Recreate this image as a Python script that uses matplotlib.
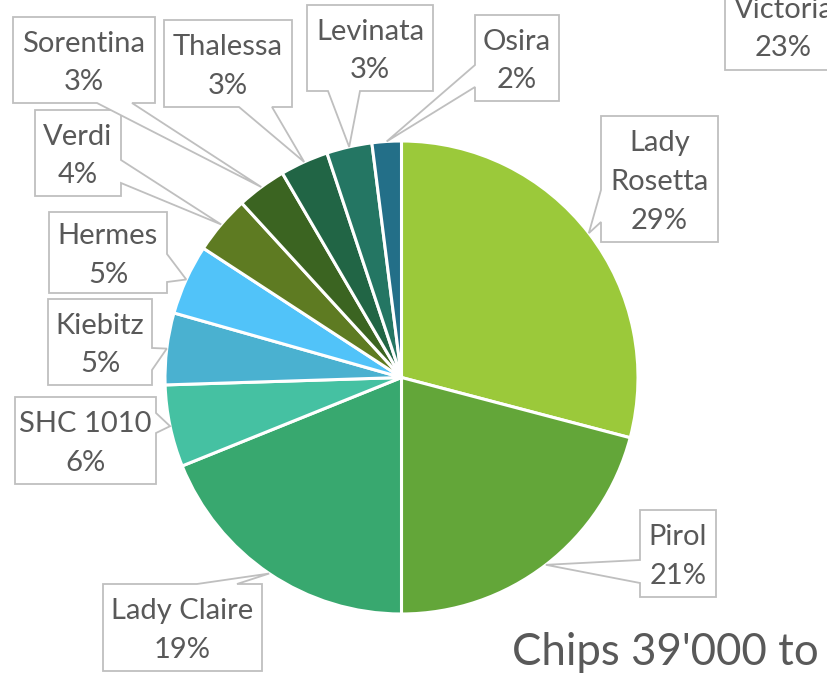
import math
import matplotlib.pyplot as plt
from matplotlib.patches import Polygon, Rectangle

# slice data, clockwise from 12 o'clock
varieties = ['Lady\nRosetta', 'Pirol', 'Lady Claire', 'SHC 1010', 'Kiebitz', 'Hermes',
             'Verdi', 'Sorentina', 'Thalessa', 'Levinata', 'Osira']
shares = [29.1, 20.9, 18.9, 5.6, 4.9, 4.8, 4.0, 3.4, 3.3, 3.1, 2.0]
colors = ['#9BC93A', '#63A639', '#38A86F', '#45C1A2', '#4AB1D0', '#51C3F9',
          '#5E7B22', '#3B6421', '#216545', '#247663', '#236F88']

title = "Chips 39'000 to"
other_label = 'Victoria\n23%'

# callout layout in pixels (x0, y0, x1, y1), side of the pointer, pointer base
boxes = [
    ((601, 116, 718, 242), 'left', (190, 222)),
    ((640, 510, 716, 597), 'left', (560, 583)),
    ((103, 584, 262, 671), 'top', (197, 237)),
    ((15, 397, 156, 484), 'right', (413, 433)),
    ((48, 299, 152, 385), 'right', (348, 370)),
    ((49, 212, 167, 293), 'right', (254, 282)),
    ((35, 110, 121, 196), 'right', (160, 183)),
    ((13, 17, 155, 103), 'bottom', (97, 132)),
    ((164, 20, 292, 107), 'bottom', (239, 272)),
    ((307, 5, 433, 91), 'bottom', (328, 360)),
    ((475, 15, 559, 101), 'left', (65, 87)),
]

W, H = 828, 674
TXT = '#595959'
EDGE = '#BFBFBF'
FONT = 'Lato'

fig = plt.figure(figsize=(W / 100, H / 100), dpi=100)
ax = fig.add_axes([0, 0, 1, 1])

cx, cy, r = 401.5, H - 377.5, 236.5
wedges, _ = ax.pie(shares, colors=colors, startangle=90, counterclock=False,
                   center=(cx, cy), radius=r, frame=True,
                   wedgeprops=dict(edgecolor='white', linewidth=2.2))
ax.set_xlim(0, W)
ax.set_ylim(0, H)
ax.set_aspect('equal')
ax.axis('off')


def callout(box, side, base, tip):
    x0, y0, x1, y1 = box
    a, b = base
    if side == 'bottom':
        pts = [(x0, y0), (x1, y0), (x1, y1), (b, y1), tip, (a, y1), (x0, y1)]
    elif side == 'top':
        pts = [(x0, y0), (a, y0), tip, (b, y0), (x1, y0), (x1, y1), (x0, y1)]
    elif side == 'left':
        pts = [(x0, y0), (x1, y0), (x1, y1), (x0, y1), (x0, b), tip, (x0, a)]
    else:
        pts = [(x0, y0), (x1, y0), (x1, a), tip, (x1, b), (x1, y1), (x0, y1)]
    pts = [(px, H - py) for px, py in pts]
    ax.add_patch(Polygon(pts, closed=True, facecolor='white', edgecolor=EDGE,
                         linewidth=1.3, zorder=3))


for w, name, val, (box, side, base) in zip(wedges, varieties, shares, boxes):
    mid = math.radians((w.theta1 + w.theta2) / 2)
    tip = (cx + r * math.cos(mid), H - (cy + r * math.sin(mid)))
    callout(box, side, base, tip)
    x0, y0, x1, y1 = box
    ax.text((x0 + x1) / 2, H - (y0 + y1) / 2 - 3, f'{name}\n{round(val):.0f}%',
            ha='center', va='center', fontsize=21, color=TXT, family=FONT,
            linespacing=1.6, zorder=4)

# neighbouring chart's label, cut off by the frame
ax.add_patch(Rectangle((725, H - 70), 140, 100, facecolor='white', edgecolor=EDGE,
                       linewidth=1.3, zorder=3))
ax.text(783.5, H - 29, other_label, ha='center', va='center', fontsize=21,
        color=TXT, family=FONT, linespacing=1.6, zorder=4)

ax.text(512, H - 665, title, ha='left', va='baseline', fontsize=31.5,
        color=TXT, family=FONT)

fig.savefig('out.png', dpi=100)
